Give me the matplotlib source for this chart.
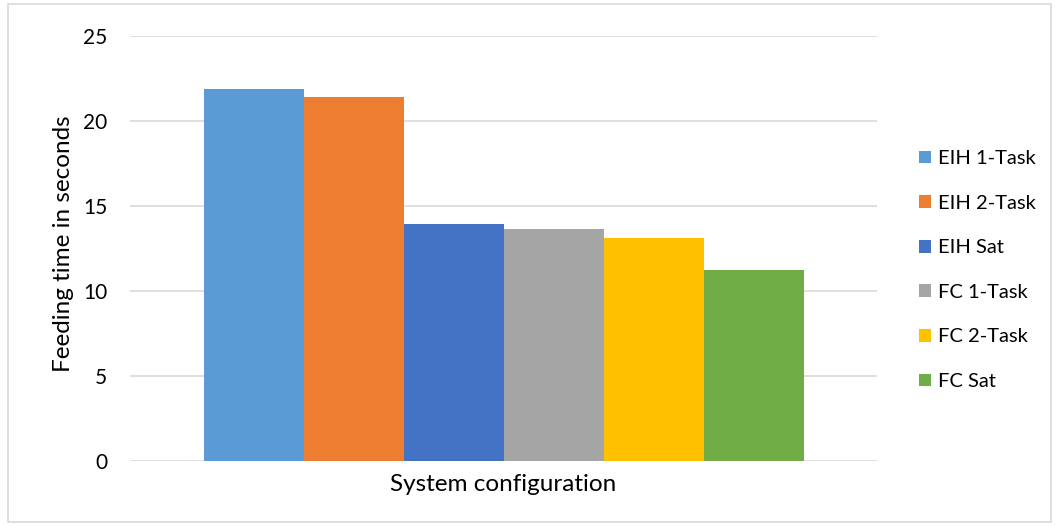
import matplotlib
matplotlib.use("Agg")
import matplotlib.pyplot as plt
from matplotlib.patches import Rectangle

series = ["EIH 1-Task", "EIH 2-Task", "EIH Sat", "FC 1-Task", "FC 2-Task", "FC Sat"]
values = [21.88, 21.41, 13.94, 13.65, 13.12, 11.24]
colors = ["#5B9BD5", "#ED7D31", "#4472C4", "#A5A5A5", "#FFC000", "#70AD47"]
yticks = [0, 5, 10, 15, 20, 25]

plt.rcParams["font.family"] = ["Lato", "DejaVu Sans"]

W, H = 1059, 526
fig = plt.figure(figsize=(W / 100, H / 100), dpi=100)
ax = fig.add_axes([130 / W, 1 - 461 / H, (877 - 130) / W, (461 - 36) / H])

w = 600 / 747 / 6
n = len(series)
for i, (name, v, c) in enumerate(zip(series, values, colors)):
    x = (i - (n - 1) / 2) * w
    ax.bar(x, v, width=w, color=c, label=name, zorder=2)

ax.set_xlim(-0.5, 0.5)
ax.set_ylim(0, 25)
ax.set_yticks(yticks)
ax.set_xticks([])
ax.tick_params(axis="y", length=0, pad=16.5, labelsize=15, colors="#000000")
ax.yaxis.grid(True, color="#D9D9D9", linewidth=1.2, zorder=0)
for s in ax.spines.values():
    s.set_visible(False)

# axis titles
fig.text(70 / W, 1 - 243.5 / H, "Feeding time in seconds", rotation=90,
         rotation_mode="anchor", ha="center", va="baseline", fontsize=17.5)
fig.text(503 / W, 1 - 491 / H, "System configuration",
         ha="center", va="baseline", fontsize=17.5)

leg = fig.legend(loc="upper left", bbox_to_anchor=(901 / W, 1 - 132 / H),
                 frameon=False, fontsize=14.5, handlelength=0.6, handleheight=0.6,
                 handletextpad=0.35, labelspacing=1.37)

fig.patches.append(Rectangle((8 / W, 4 / H), 1 - 16 / W, 1 - 8 / H,
                             transform=fig.transFigure, fill=False,
                             edgecolor="#D9D9D9", linewidth=1.2))

fig.savefig("out.png", dpi=100)
